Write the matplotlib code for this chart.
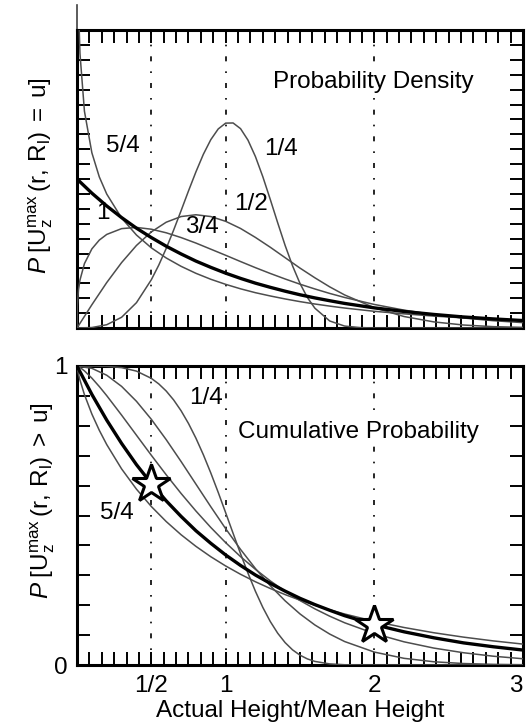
import numpy as np
import matplotlib.pyplot as plt
from matplotlib.ticker import MultipleLocator, FixedLocator

plt.rcParams['font.family'] = ['Liberation Sans', 'DejaVu Sans']
plt.rcParams['mathtext.fontset'] = 'custom'
plt.rcParams['mathtext.rm'] = 'Liberation Sans'
plt.rcParams['mathtext.it'] = 'Liberation Sans:italic'
plt.rcParams['mathtext.bf'] = 'Liberation Sans:bold'

# ---- values (height / mean height on x) ----
# shape label 5/4
x_08 = [0, 0.005, 0.01, 0.02, 0.05, 0.1, 0.15, 0.2, 0.3, 0.4, 0.5, 0.6, 0.7, 0.8, 0.9,
        1.0, 1.1, 1.2, 1.3, 1.4, 1.5, 1.6, 1.7, 1.8, 2.0, 2.2, 2.4, 2.6, 2.8, 3.0]
pdf_08 = [np.nan, 2.51, 2.16, 1.842, 1.455, 1.176, 1.014, 0.899, 0.738, 0.624, 0.538, 0.470,
          0.414, 0.367, 0.327, 0.293, 0.263, 0.237, 0.215, 0.195, 0.177, 0.161, 0.147,
          0.134, 0.112, 0.095, 0.080, 0.068, 0.058, 0.050]
sf_08 = [1.0, 0.9842, 0.9726, 0.9528, 0.9043, 0.8393, 0.7849, 0.7372, 0.6559, 0.5881,
         0.5301, 0.4798, 0.4357, 0.3968, 0.3621, 0.3312, 0.3034, 0.2784, 0.2559, 0.2354,
         0.2169, 0.2000, 0.1846, 0.1706, 0.1460, 0.1254, 0.1079, 0.0932, 0.0806, 0.0699]

# shape label 1 (bold curve, density and exceedance coincide)
x_10 = [0, 0.1, 0.2, 0.3, 0.4, 0.5, 0.6, 0.7, 0.8, 0.9, 1.0, 1.1, 1.2, 1.3, 1.4, 1.5,
        1.6, 1.7, 1.8, 2.0, 2.2, 2.4, 2.6, 2.8, 3.0]
f_10 = [1.000, 0.905, 0.819, 0.741, 0.670, 0.607, 0.549, 0.497, 0.449, 0.407, 0.368,
        0.333, 0.301, 0.273, 0.247, 0.223, 0.202, 0.183, 0.165, 0.135, 0.111, 0.091,
        0.074, 0.061, 0.050]

# shape label 3/4
x_43 = [0, 0.002, 0.01, 0.02, 0.05, 0.1, 0.15, 0.2, 0.3, 0.4, 0.5, 0.6, 0.7, 0.8, 0.9,
        1.0, 1.1, 1.2, 1.3, 1.4, 1.5, 1.6, 1.7, 1.8, 2.0, 2.2, 2.4, 2.6, 2.8, 3.0]
pdf_43 = [0, 0.150, 0.256, 0.322, 0.432, 0.531, 0.590, 0.628, 0.667, 0.675, 0.663, 0.639,
          0.607, 0.570, 0.529, 0.488, 0.446, 0.405, 0.366, 0.329, 0.294, 0.262, 0.232,
          0.205, 0.158, 0.120, 0.090, 0.067, 0.049, 0.036]
sf_43 = [1.0, 0.9998, 0.9981, 0.9952, 0.9837, 0.9594, 0.9313, 0.9008, 0.8357, 0.7685,
         0.7014, 0.6362, 0.5738, 0.5150, 0.4600, 0.4092, 0.3625, 0.3200, 0.2814, 0.2467,
         0.2156, 0.1878, 0.1632, 0.1413, 0.1052, 0.0775, 0.0566, 0.0410, 0.0294, 0.0209]

# shape label 1/2
x_20 = [0, 0.1, 0.2, 0.3, 0.4, 0.5, 0.6, 0.7, 0.8, 0.9, 1.0, 1.1, 1.2, 1.3, 1.4, 1.5,
        1.6, 1.7, 1.8, 2.0, 2.2, 2.4, 2.6, 2.8, 3.0]
pdf_20 = [0, 0.156, 0.305, 0.439, 0.554, 0.645, 0.710, 0.748, 0.760, 0.748, 0.716, 0.668,
          0.608, 0.542, 0.472, 0.402, 0.337, 0.276, 0.222, 0.136, 0.077, 0.041, 0.020,
          0.009, 0.004]
sf_20 = [1.0, 0.9922, 0.9691, 0.9318, 0.8819, 0.8217, 0.7537, 0.6806, 0.6049, 0.5293,
         0.4559, 0.3866, 0.3227, 0.2652, 0.2145, 0.1708, 0.1339, 0.1034, 0.0785, 0.0432,
         0.0223, 0.0108, 0.0049, 0.0021, 0.0009]

# shape label 1/4
x_40 = [0, 0.1, 0.2, 0.3, 0.4, 0.5, 0.55, 0.6, 0.65, 0.7, 0.75, 0.8, 0.85, 0.9, 0.95,
        1.0, 1.05, 1.1, 1.15, 1.2, 1.25, 1.3, 1.35, 1.4, 1.45, 1.5, 1.55, 1.6, 1.7, 1.8,
        1.9, 2.0, 2.5, 3.0]
pdf_40 = [0, 0.003, 0.022, 0.072, 0.170, 0.324, 0.422, 0.534, 0.657, 0.787, 0.920, 1.048,
          1.166, 1.264, 1.336, 1.375, 1.376, 1.338, 1.261, 1.151, 1.015, 0.863, 0.706,
          0.554, 0.417, 0.299, 0.204, 0.133, 0.047, 0.013, 0.003, 0.0, 0.0, 0.0]
sf_40 = [1.0, 0.9999, 0.9989, 0.9946, 0.9829, 0.9587, 0.9401, 0.9163, 0.8865, 0.8504,
         0.8077, 0.7585, 0.7031, 0.6422, 0.5771, 0.5092, 0.4403, 0.3723, 0.3072, 0.2467,
         0.1925, 0.1455, 0.1063, 0.0748, 0.0506, 0.0328, 0.0203, 0.0120, 0.0036, 0.0008,
         0.0002, 0.0, 0.0, 0.0]

ref_x = [0.5, 1, 2]
star_x = [0.5, 2.0]
star_y = [0.607, 0.135]

xtick_pos = [0.5, 1, 2, 3]
xtick_lab = ['1/2', '1', '2', '3']

FS = 17.5
thin = dict(color='0.3', lw=1.1, zorder=3)
bold = dict(color='k', lw=2.4, zorder=4)
vstyle = dict(color='k', lw=1.2, ls=(0, (3, 6, 1, 6)), zorder=1)

fig = plt.figure(figsize=(5.27, 7.27), dpi=100)
ax1 = fig.add_axes([77 / 527, 1 - 328 / 727, 446 / 527, 298 / 727])
ax2 = fig.add_axes([77 / 527, 1 - 665 / 727, 446 / 527, 299 / 727])


def style(ax):
    for s in ax.spines.values():
        s.set_linewidth(2.2)
    ax.tick_params(which='both', direction='in', length=9.5, width=1.4,
                   top=True, right=True, labelsize=FS, pad=7)
    ax.xaxis.set_minor_locator(MultipleLocator(1 / 12))
    ax.set_xlim(0, 3)


# ---- top: probability density ----
style(ax1)
ax1.set_ylim(0, 2)
ax1.xaxis.set_major_locator(MultipleLocator(1 / 12))
ax1.yaxis.set_major_locator(MultipleLocator(0.1))
ax1.tick_params(labelbottom=False, labelleft=False)
for v in ref_x:
    ax1.axvline(v, **vstyle)
ax1.plot(x_08, pdf_08, **thin)
ax1.plot(x_43, pdf_43, **thin)
ax1.plot(x_20, pdf_20, **thin)
ax1.plot(x_40, pdf_40, **thin)
ax1.plot(x_10, f_10, **bold)
ax1.axvline(0, ymin=1, ymax=1.085, clip_on=False, color='0.25', lw=1.2)

ax1.text(1.99, 1.65, 'Probability Density', fontsize=FS, ha='center', va='center',
         bbox=dict(fc='white', ec='none', pad=1), zorder=2)
for s, (tx, ty) in [('5/4', (0.31, 1.22)), ('1', (0.175, 0.77)), ('3/4', (0.84, 0.68)),
                    ('1/2', (1.17, 0.83)), ('1/4', (1.37, 1.20))]:
    ax1.text(tx, ty, s, fontsize=FS, ha='center', va='center', zorder=5)
ax1.set_ylabel(r'$P\;[\mathrm{U}_{\mathrm{z}}^{\mathrm{max}}\,(\mathrm{r,\,R_l})\;=\;\mathrm{u}]$',
               fontsize=FS)
ax1.yaxis.set_label_coords(-0.05, 0.51)

# ---- bottom: cumulative (exceedance) probability ----
style(ax2)
ax2.set_ylim(0, 1)
ax2.xaxis.set_major_locator(FixedLocator(xtick_pos))
ax2.set_xticklabels(xtick_lab)
ax2.get_xticklabels()[-1].set_ha('right')
ax2.yaxis.set_major_locator(FixedLocator([0, 1]))
ax2.set_yticklabels(['0', '1'])
ax2.yaxis.set_minor_locator(MultipleLocator(0.1))
for v in ref_x:
    ax2.axvline(v, **vstyle)
ax2.plot(x_08, sf_08, **thin)
ax2.plot(x_43, sf_43, **thin)
ax2.plot(x_20, sf_20, **thin)
ax2.plot(x_40, sf_40, **thin)
ax2.plot(x_10, f_10, **bold)
ax2.plot(star_x, star_y, ls='none', marker='*', ms=29, mfc='white', mec='k', mew=2.2,
         zorder=6)

ax2.text(1.89, 0.778, 'Cumulative Probability', fontsize=FS, ha='center', va='center',
         bbox=dict(fc='white', ec='none', pad=1), zorder=2)
ax2.text(0.87, 0.892, '1/4', fontsize=FS, ha='center', va='center', zorder=5)
ax2.text(0.27, 0.508, '5/4', fontsize=FS, ha='center', va='center', zorder=5)
ax2.set_ylabel(r'$P\;[\mathrm{U}_{\mathrm{z}}^{\mathrm{max}}\,(\mathrm{r,\,R_l})\;>\;\mathrm{u}]$',
               fontsize=FS)
ax2.yaxis.set_label_coords(-0.045, 0.55)
ax2.set_xlabel('Actual Height/Mean Height', fontsize=FS, labelpad=2)

fig.savefig('out.png', dpi=100)
